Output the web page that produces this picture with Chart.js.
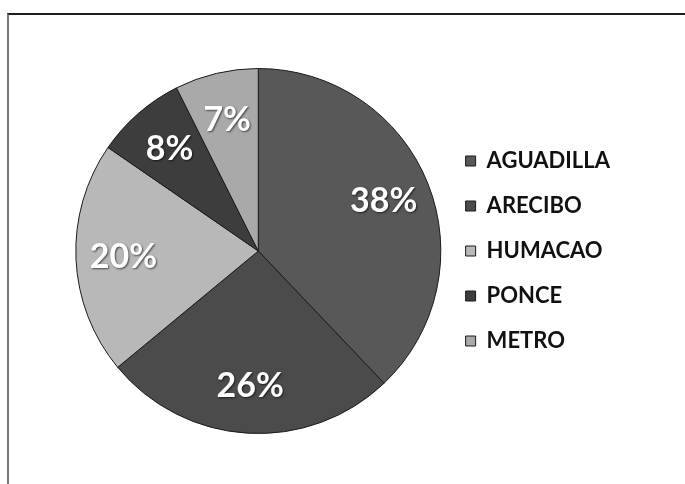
<!DOCTYPE html>
<html>
<head>
<meta charset="utf-8">
<script src="https://cdn.jsdelivr.net/npm/chart.js@4"></script>
<style>
  html, body { margin: 0; padding: 0; background: #fff; }
  .wrap { position: relative; width: 685px; height: 484px; overflow: hidden; }
  .frame { position: absolute; left: 7px; top: 13px; width: 690px; height: 490px;
           border-top: 2px solid #1e1e1e; border-left: 2px solid #777; }
  canvas { position: absolute; left: 0; top: 0; }
</style>
</head>
<body>
<div class="wrap">
  <div class="frame"></div>
  <canvas id="pieChart" width="685" height="484"></canvas>
</div>
<script>
'use strict';

// regions and their shares
const regions = ['AGUADILLA', 'ARECIBO', 'HUMACAO', 'PONCE', 'METRO'];
const shares = [37.9, 26.1, 20.6, 8.0, 7.4];
const pctLabels = ['38%', '26%', '20%', '8%', '7%'];
const sliceColors = ['#585858', '#4b4b4b', '#b8b8b8', '#3d3d3d', '#a9a9a9'];

// white percent labels inside the slices
const sliceLabels = {
    id: 'sliceLabels',
    afterDatasetsDraw(chart) {
        const ctx = chart.ctx;
        const meta = chart.getDatasetMeta(0);
        ctx.save();
        ctx.font = 'bold 34px Lato, "Open Sans", sans-serif';
        ctx.fillStyle = '#ffffff';
        ctx.textAlign = 'center';
        ctx.textBaseline = 'middle';
        ctx.shadowColor = 'rgba(0,0,0,0.6)';
        ctx.shadowBlur = 2;
        ctx.shadowOffsetX = 1;
        ctx.shadowOffsetY = 1;
        meta.data.forEach((arc, i) => {
            const p = arc.getProps(['x', 'y', 'startAngle', 'endAngle', 'outerRadius'], true);
            const mid = (p.startAngle + p.endAngle) / 2;
            const r = p.outerRadius * 0.74;
            ctx.fillText(pctLabels[i], p.x + Math.cos(mid) * r, p.y + Math.sin(mid) * r);
        });
        ctx.restore();
    }
};

const ctx = document.getElementById('pieChart').getContext('2d');
const pieChart = new Chart(ctx, {
    type: 'pie',
    data: {
        labels: regions,
        datasets: [{
            data: shares,
            backgroundColor: sliceColors,
            borderColor: '#1a1a1a',
            borderWidth: 1
        }]
    },
    options: {
        responsive: false,
        animation: false,
        layout: { padding: { left: 74, top: 68, bottom: 50, right: 65 } },
        plugins: {
            tooltip: { enabled: false },
            legend: {
                position: 'right',
                align: 'center',
                labels: {
                    boxWidth: 10,
                    boxHeight: 10,
                    padding: 23,
                    color: '#111',
                    font: { family: 'Lato, "Open Sans", sans-serif', size: 22, weight: 'bold' }
                }
            }
        }
    },
    plugins: [sliceLabels]
});
</script>
</body>
</html>
